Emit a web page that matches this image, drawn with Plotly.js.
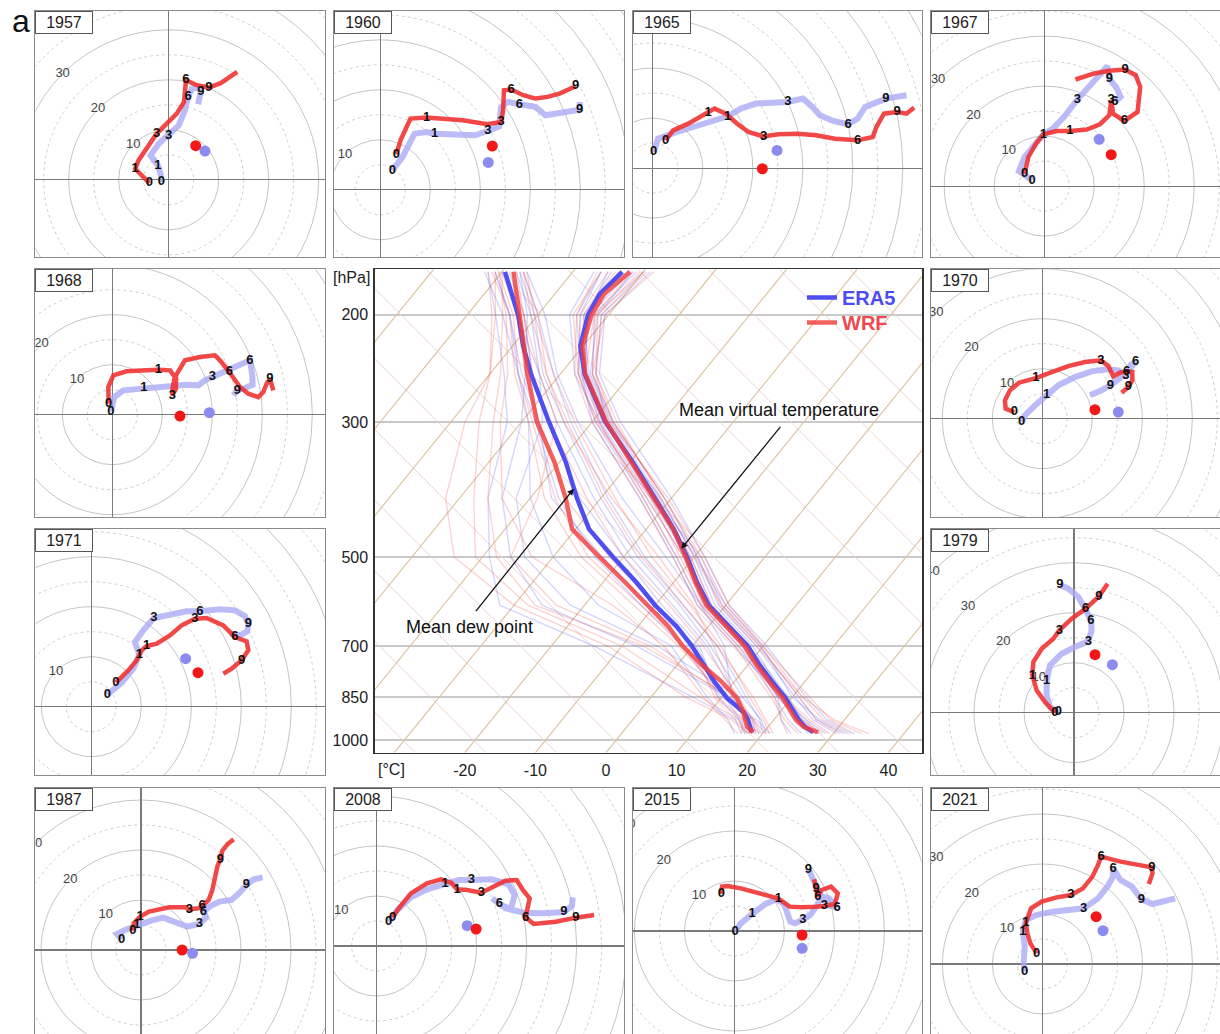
<!DOCTYPE html>
<html><head><meta charset="utf-8">
<script src="https://cdn.plot.ly/plotly-3.0.1.min.js"></script>
<style>html,body{margin:0;padding:0;overflow:hidden;background:#fff}#chart{width:1222px;height:1036px}</style>
</head><body><div id="chart"></div>
<script>
// ---------------- DATA ----------------
const YEARS = [1957,1960,1965,1967,1968,1970,1971,1979,1987,2008,2015,2021];
const HEIGHT_LABELS = ['0','1','3','6','9'];
const RING_LABELS = [10,20,30,40];

// Hodographs (m/s): u, v and the indices of the 0/1/3/6/9 km points
const WRF_U_1957 = [-3.87,-6.69,-6.04,-2.42,-0.40,1.61,3.06,3.46,5.64,8.06,10.47,12.08,13.70];
const WRF_V_1957 = [-0.67,2.21,3.88,9.22,11.23,13.23,15.57,19.92,18.92,18.45,19.38,20.45,21.59];
const WRF_I_1957 = [0,1,3,7,9];
const ERA_U_1957 = [-1.45,-1.61,-2.18,-3.63,-2.01,0.0,2.01,3.22,3.87,4.67,5.80,6.44,6.20,5.88];
const ERA_V_1957 = [-0.47,1.20,2.87,4.88,7.22,8.89,10.89,13.90,16.58,18.25,18.45,17.58,16.04,15.11];
const ERA_I_1957 = [0,2,5,8,11];

const WRF_U_1960 = [3.22,4.03,6.04,9.26,16.51,21.35,24.17,24.57,24.73,26.18,28.60,31.02,33.43,35.85,39.07];
const WRF_V_1960 = [7.09,9.89,14.24,14.44,13.90,13.10,13.57,15.91,19.92,20.05,18.92,18.25,18.58,19.25,20.72];
const WRF_I_1960 = [0,3,6,9,14];
const ERA_U_1960 = [2.42,4.43,6.85,9.26,10.88,18.93,21.51,23.77,24.17,25.54,27.79,31.02,33.03,35.04,38.27,39.88,39.88];
const ERA_V_1960 = [3.88,6.55,11.23,11.56,11.23,10.89,11.76,12.70,16.58,17.58,17.11,16.58,14.91,15.24,15.91,16.04,17.58];
const ERA_I_1960 = [0,4,6,10,15];

const WRF_U_1965 = [2.56,4.07,7.08,11.07,12.35,14.61,16.87,19.13,22.14,25.15,28.92,32.68,36.45,40.96,43.98,44.73,46.23,48.87,50.75,52.26];
const WRF_V_1965 = [5.55,7.55,8.89,11.03,11.90,10.89,8.89,7.22,6.35,6.75,6.88,6.55,5.88,5.55,6.22,8.22,10.89,11.23,10.89,12.10];
const WRF_I_1965 = [0,3,8,13,17];
const ERA_U_1965 = [0.15,1.05,4.82,10.09,14.98,17.62,20.63,27.03,30.04,31.93,33.43,36.07,39.08,40.96,42.47,46.61,50.75];
const ERA_V_1965 = [3.21,5.88,7.22,8.89,10.36,11.90,12.90,13.23,13.90,12.23,10.56,9.42,8.76,9.89,12.23,13.90,14.57];
const ERA_I_1965 = [0,4,7,12,15];

const WRF_U_1967 = [-3.92,-3.16,-1.66,-0.15,2.48,5.12,8.51,11.15,13.03,13.40,13.78,16.04,18.67,19.20,18.30,16.19,13.03,10.01,6.25];
const WRF_V_1967 = [2.47,5.82,8.49,10.36,11.03,11.03,11.30,12.37,14.17,17.18,14.50,13.03,14.84,19.85,22.19,23.33,23.06,22.53,21.32];
const WRF_I_1967 = [0,5,9,11,15];
const ERA_U_1967 = [-2.41,-5.05,-3.92,-1.66,-0.15,1.73,3.99,6.63,9.26,11.52,12.65,13.03,14.53,15.29,14.16];
const ERA_V_1967 = [1.14,3.01,5.82,8.82,10.36,11.50,13.84,17.31,20.19,22.53,24.00,21.52,19.52,17.85,16.84];
const ERA_I_1967 = [0,4,7,14,11];

const WRF_U_1968 = [-0.73,-0.8,0.2,2.87,6.87,9.2,11.53,12.53,12.07,12.0,12.73,12.73,14.53,17.53,20.53,21.53,23.4,25.53,27.2,29.2,30.2,30.87,31.53,32.2];
const WRF_V_1968 = [2.2,5.53,7.87,8.67,8.87,9.0,8.87,7.53,5.53,3.87,5.2,7.87,10.87,11.53,11.87,10.87,8.53,5.53,4.2,3.53,4.53,6.2,7.2,4.87];
const WRF_I_1968 = [0,5,9,16,22];
const ERA_U_1968 = [-0.27,0.4,2.2,6.33,10.87,14.87,17.2,18.53,20.0,23.53,27.53,28.0,28.07,26.53,25.0,24.2];
const ERA_V_1968 = [0.67,3.53,4.87,5.33,5.73,6.0,5.87,6.87,7.53,9.07,10.87,7.87,6.0,5.33,4.87,3.87];
const ERA_I_1968 = [0,3,8,10,14];

const WRF_U_1970 = [-5.6,-7.33,-7.47,-6.47,-4.67,-1.27,1.87,5.2,8.53,11.73,13.2,14.2,15.53,16.87,18.0,18.0,17.2,15.87];
const WRF_V_1970 = [1.33,2.0,3.67,5.67,7.2,8.13,9.33,10.53,11.33,11.67,10.53,8.47,9.2,9.47,9.33,7.67,6.33,5.2];
const WRF_I_1970 = [0,5,9,13,16];
const ERA_U_1970 = [-4.13,-3.47,-1.47,0.87,3.2,6.53,9.87,12.87,15.2,16.73,17.73,18.67,17.33,15.2,13.6,11.53,9.53];
const ERA_V_1970 = [-0.67,0.67,2.67,4.8,6.67,8.33,9.47,9.87,9.67,8.67,10.8,11.47,9.67,7.87,6.67,5.53,4.67];
const ERA_I_1970 = [0,3,9,11,14];

const WRF_U_1971 = [4.93,7.4,9.07,10.07,11.07,13.07,15.73,18.07,20.73,23.07,26.4,28.73,31.07,31.4,30.07,28.07,26.4];
const WRF_V_1971 = [4.8,7.27,9.27,11.27,12.13,12.6,14.27,16.27,17.6,17.73,16.27,13.93,13.07,11.27,9.27,7.6,6.6];
const WRF_I_1971 = [0,4,8,11,14];
const ERA_U_1971 = [3.2,6.07,8.4,9.6,8.73,10.4,12.53,16.4,19.07,21.73,25.73,28.73,30.73,31.4,31.2,29.73,27.73];
const ERA_V_1971 = [2.4,4.8,7.6,10.4,12.93,15.27,17.73,18.6,19.07,19.07,19.47,19.27,18.13,16.6,15.07,14.27,14.6];
const ERA_I_1971 = [0,3,6,9,13];

const WRF_U_1979 = [-3.8,-5.8,-7.47,-8.33,-8.13,-6.47,-4.13,-2.93,-0.47,2.33,5.0,6.73];
const WRF_V_1979 = [0.0,2.13,4.47,7.47,10.13,12.8,14.8,16.47,18.8,20.8,23.27,25.8];
const WRF_I_1979 = [0,3,7,9,10];
const ERA_U_1979 = [-3.13,-4.8,-5.47,-5.47,-4.8,-2.47,0.2,2.87,3.53,3.4,2.2,0.87,-1.13,-2.8];
const ERA_V_1979 = [0.13,1.13,3.47,6.47,9.47,11.8,13.13,14.27,16.47,18.47,20.8,23.13,24.8,25.6];
const ERA_I_1979 = [0,3,7,9,13];

const WRF_U_1987 = [-1.61,-1.45,-0.16,1.61,5.64,8.86,9.67,11.44,12.24,13.53,14.26,14.66,15.3,15.87,16.27,17.32,18.53];
const WRF_V_1987 = [3.87,5.33,6.67,7.67,8.53,8.53,8.13,8.33,8.8,10.0,12.0,14.33,16.8,18.13,19.87,21.2,22.13];
const WRF_I_1987 = [0,2,6,8,13];
const ERA_U_1987 = [-3.87,-4.83,-3.22,-0.81,2.01,4.43,6.85,9.26,11.68,13.05,12.49,13.69,15.71,18.12,19.73,21.1,22.55,24.33];
const ERA_V_1987 = [2.13,3.2,4.0,5.0,5.87,6.47,5.47,4.67,5.2,6.53,7.67,8.67,9.67,10.0,11.47,13.0,14.13,14.53];
const ERA_I_1987 = [0,3,8,10,15];

const WRF_U_2008 = [3.22,4.43,6.85,10.07,12.89,14.9,16.11,18.12,20.94,23.76,25.78,28.03,29.24,30.61,30.21,29.8,31.41,35.84,39.87,43.5];
const WRF_V_2008 = [5.73,7.53,10.53,12.53,13.33,12.67,11.33,11.2,10.67,12.0,13.07,13.2,11.2,9.53,7.2,5.73,4.4,4.87,5.67,6.2];
const WRF_I_2008 = [0,6,8,15,18];
const ERA_U_2008 = [2.42,4.03,6.85,10.07,13.69,16.51,18.93,22.96,26.34,27.63,26.82,24.57,23.12,25.78,29.4,33.43,37.46,39.07,39.23];
const ERA_V_2008 = [4.87,7.07,9.73,11.33,12.4,13.2,13.2,13.33,12.4,10.2,7.33,8.4,9.53,7.53,6.67,6.53,6.8,8.0,9.73];
const ERA_I_2008 = [0,4,6,11,16];

const WRF_U_2015 = [-2.63,-2.48,-1.35,1.28,5.04,8.8,11.05,13.31,16.32,17.97,20.08,20.68,19.33,17.45,16.69,16.32,15.94];
const WRF_V_2015 = [7.4,8.87,9.0,8.53,7.53,6.47,4.87,4.73,4.87,5.0,5.4,7.53,8.87,8.2,6.87,8.53,10.33];
const WRF_I_2015 = [0,5,9,14,15];
const ERA_U_2015 = [0.15,1.28,3.53,6.17,8.42,9.93,11.2,12.18,13.69,15.19,16.32,17.45,18.95,20.53,18.57,17.07,15.94,14.81];
const ERA_V_2015 = [-0.13,1.53,3.4,5.4,6.33,5.4,1.87,1.53,2.33,3.2,4.87,6.87,6.53,4.73,5.2,7.53,9.87,12.33];
const ERA_I_2015 = [0,2,8,13,17];

const WRF_U_2021 = [-1.13,-2.41,-3.01,-3.31,-2.26,-0.15,2.86,5.72,8.12,10.0,11.13,11.73,15.64,19.4,21.88,22.03,21.28];
const WRF_V_2021 = [2.13,4.13,6.13,8.27,11.13,12.47,13.33,13.8,15.13,17.47,19.8,21.47,20.47,19.8,19.33,18.13,16.0];
const WRF_I_2021 = [0,3,7,11,14];
const ERA_U_2021 = [-3.53,-3.76,-3.53,-3.91,-3.31,-1.28,2.11,5.87,8.27,11.13,13.01,14.14,14.14,15.64,17.9,19.78,22.03,26.55];
const ERA_V_2021 = [-1.53,0.47,3.47,6.47,8.8,9.8,10.47,10.93,11.13,13.13,15.47,17.47,19.13,16.8,15.47,12.93,12.0,13.13];
const ERA_I_2021 = [0,3,8,12,15];

// Storm motion (m/s), in YEARS order
const STORM_WRF_U = [5.40,22.40,21.91,13.40,13.53,10.53,21.33,4.2,8.22,19.9,13.54,10.75];
const STORM_WRF_V = [6.82,8.76,-0.13,6.28,-0.27,1.8,6.8,11.6,0.0,3.4,-0.8,9.47];
const STORM_ERA_U = [7.25,21.59,24.85,10.99,19.4,15.2,18.87,7.67,10.31,18.12,13.54,12.11];
const STORM_ERA_V = [5.75,5.48,3.54,9.36,0.4,1.33,9.6,9.6,-0.67,4.07,-3.47,6.67];

// Skew-T mean profiles (hPa, degC)
const LEVELS   = [970,950,925,900,850,800,750,700,650,600,550,500,450,400,350,300,250,225,200,185,170];
const ERA5_TV  = [27.0,25.2,23.5,22.0,19.0,15.3,11.5,7.8,3.0,-2.4,-6.7,-11.0,-16.1,-22.3,-29.5,-38.1,-46.6,-50.4,-52.9,-53.6,-53.0];
const WRF_TV   = [27.7,25.0,23.1,21.6,18.6,14.9,11.1,7.4,2.6,-2.7,-6.9,-11.2,-16.2,-22.5,-29.6,-38.0,-46.5,-50.1,-52.4,-53.0,-51.9];
const ERA5_TD  = [18.3,17.4,16.3,14.9,10.7,7.1,3.6,-0.1,-4.5,-10.0,-15.3,-21.5,-28.1,-33.4,-39.0,-46.1,-54.2,-58.5,-62.8,-66.1,-69.6];
const WRF_TD   = [18.5,17.0,15.9,14.9,12.1,8.1,3.3,-1.4,-5.7,-11.0,-16.9,-23.4,-30.5,-35.0,-40.6,-47.8,-54.7,-58.4,-62.6,-65.5,-68.4];

// Individual soundings (hPa, degC)
const MEMBER_LEVELS = [975,925,850,700,600,500,400,300,250,200,170];
const ERA5_TV_M1 = [33.0,27.5,22.0,10.5,0.5,-8.5,-20.0,-36.0,-44.5,-50.5,-49.0];
const ERA5_TV_M2 = [28.0,24.0,19.5,8.0,-2.0,-10.5,-22.0,-37.5,-46.0,-53.5,-54.5];
const ERA5_TV_M3 = [25.5,22.0,17.5,6.5,-3.5,-12.5,-24.0,-39.5,-47.5,-54.0,-56.0];
const ERA5_TV_M4 = [30.5,25.5,20.5,9.0,-1.0,-9.5,-21.0,-37.0,-45.5,-52.0,-51.0];
const ERA5_TV_M5 = [24.0,21.0,18.0,7.5,-2.5,-11.5,-23.5,-39.0,-48.0,-55.5,-57.0];
const ERA5_TV_M6 = [29.0,24.5,18.5,6.0,-4.0,-13.0,-24.5,-40.0,-47.0,-52.5,-52.0];
const ERA5_TV_M7 = [26.5,23.0,19.0,8.5,-1.5,-10.0,-21.5,-38.5,-46.5,-53.0,-55.0];
const ERA5_TV_M8 = [31.5,26.0,21.0,9.5,-0.5,-9.0,-22.5,-38.0,-45.0,-51.0,-50.0];
const ERA5_TV_M9 = [27.5,23.5,18.0,7.0,-3.0,-11.0,-23.0,-38.8,-47.2,-54.5,-56.0];
const ERA5_TV_M10 = [32.0,26.5,20.0,9.8,0.0,-9.8,-21.8,-37.2,-45.8,-51.5,-51.5];
const WRF_TV_M1 = [34.0,28.0,22.5,10.0,0.0,-9.0,-21.0,-37.0,-45.0,-51.0,-49.5];
const WRF_TV_M2 = [27.0,23.5,19.0,7.5,-2.5,-11.0,-22.5,-38.0,-46.5,-53.0,-53.5];
const WRF_TV_M3 = [25.0,21.5,17.0,6.0,-4.0,-13.0,-24.5,-40.0,-48.0,-54.5,-56.5];
const WRF_TV_M4 = [31.0,26.0,21.0,9.5,-0.5,-10.0,-21.5,-36.5,-45.0,-51.5,-50.5];
const WRF_TV_M5 = [23.5,21.0,17.5,7.0,-3.0,-12.0,-23.0,-39.5,-47.5,-55.0,-56.0];
const WRF_TV_M6 = [29.5,25.0,19.0,6.5,-3.5,-12.5,-24.0,-39.0,-46.5,-52.0,-51.5];
const WRF_TV_M7 = [27.5,23.5,18.5,8.0,-2.0,-10.5,-22.0,-38.5,-47.0,-53.5,-54.0];
const WRF_TV_M8 = [32.5,27.0,21.5,10.0,0.5,-8.5,-20.5,-37.5,-45.5,-50.5,-48.5];
const WRF_TV_M9 = [28.5,24.0,18.0,7.2,-3.2,-11.5,-23.5,-39.2,-47.5,-54.0,-55.0];
const WRF_TV_M10 = [35.0,28.5,21.5,9.0,-0.8,-9.5,-21.0,-37.0,-45.5,-51.8,-50.0];
const ERA5_TD_M1 = [20.0,18.0,13.5,3.5,-6.0,-17.0,-29.0,-43.0,-51.0,-60.0,-67.0];
const ERA5_TD_M2 = [17.0,14.5,6.0,-14.0,-32.0,-39.0,-46.0,-52.0,-58.0,-66.0,-72.0];
const ERA5_TD_M3 = [19.5,17.0,12.0,2.0,-7.5,-19.0,-31.0,-45.0,-53.0,-61.0,-68.0];
const ERA5_TD_M4 = [16.0,13.5,8.0,-3.0,-18.0,-30.0,-40.0,-49.0,-56.0,-64.0,-71.0];
const ERA5_TD_M5 = [18.5,16.5,11.5,4.5,-3.5,-14.0,-27.0,-42.0,-50.5,-59.0,-66.5];
const ERA5_TD_M6 = [21.0,17.5,10.0,-1.5,-12.0,-24.0,-36.0,-48.0,-56.0,-65.0,-72.5];
const ERA5_TD_M7 = [17.5,15.0,9.5,1.0,-9.0,-20.0,-33.0,-46.0,-54.0,-62.0,-69.0];
const ERA5_TD_M8 = [18.8,16.0,12.5,-5.0,-22.0,-34.0,-42.0,-47.0,-53.0,-63.0,-70.0];
const ERA5_TD_M9 = [19.0,16.8,11.0,-8.0,-26.0,-36.0,-44.0,-50.0,-55.0,-61.5,-67.5];
const ERA5_TD_M10 = [17.8,15.2,10.5,0.5,-11.0,-23.0,-37.0,-47.5,-55.5,-64.0,-71.0];
const ERA5_TD_M11 = [20.5,18.2,13.0,2.5,-6.5,-18.0,-30.0,-44.0,-52.5,-60.5,-67.5];
const WRF_TD_M1 = [21.0,18.5,14.0,4.0,-5.0,-16.0,-28.0,-42.5,-51.0,-60.5,-66.5];
const WRF_TD_M2 = [17.5,15.0,7.0,-10.0,-28.0,-41.0,-48.0,-56.0,-60.0,-66.0,-71.0];
const WRF_TD_M3 = [19.0,17.0,12.5,1.5,-8.0,-20.0,-32.0,-46.0,-54.0,-62.0,-68.5];
const WRF_TD_M4 = [16.5,13.0,7.5,-4.0,-16.0,-33.0,-44.0,-53.0,-57.5,-64.5,-70.5];
const WRF_TD_M5 = [18.0,16.5,12.0,3.0,-4.5,-15.0,-28.5,-44.0,-52.0,-60.0,-67.0];
const WRF_TD_M6 = [20.5,17.0,10.5,-2.0,-13.0,-26.0,-38.0,-49.0,-56.5,-64.0,-71.5];
const WRF_TD_M7 = [17.0,15.5,9.0,0.0,-10.0,-22.0,-35.0,-47.5,-55.0,-63.0,-69.5];
const WRF_TD_M8 = [19.5,16.0,11.0,-6.0,-24.0,-36.0,-39.0,-45.0,-53.0,-62.0,-68.0];
const WRF_TD_M9 = [19.8,17.2,11.5,-7.0,-27.0,-38.0,-46.0,-54.0,-58.5,-65.0,-70.0];
const WRF_TD_M10 = [18.2,15.8,9.5,-1.0,-12.0,-25.0,-36.5,-48.5,-56.0,-63.5,-70.5];
const WRF_TD_M11 = [21.5,18.8,14.5,3.5,-6.0,-17.5,-29.5,-43.5,-52.0,-61.0,-67.0];
const WRF_TD_M12 = [18.0,14.0,5.0,-12.0,-30.0,-44.0,-52.0,-58.0,-60.0,-66.5,-72.0];

const P_TICKS = [200,300,500,700,850,1000];
const T_TICKS = [-20,-10,0,10,20,30,40];

// ---------------- LAYOUT CONFIG ----------------
const W = 1222, H = 1036, PX_PER_MS = 5;
const COL_L = [35.4, 334.0, 632.5, 930.7], COL_R = [325.3, 624.2, 921.8, 1221.5];
const ROW_T = [11.0, 269.3, 528.7, 787.7], ROW_B = [257.3, 517.0, 775.3, 1035.0];
// [column, row, origin x px, origin y px]
const PANEL_POS = {1957:[0,0,168.7,179.8],1960:[1,0,380.3,189.8],1965:[2,0,652.8,168.1],1967:[3,0,1044.2,186.1],
  1968:[0,1,112.3,414.7],1970:[3,1,1042.3,418.7],1971:[0,2,91.3,706.7],1979:[3,2,1074,712.7],
  1987:[0,3,141,950],2008:[1,3,376.6,946],2015:[2,3,734.4,931],2021:[3,3,1042.4,964]};
const SKEW_BOX = [374.8, 269.3, 922.4, 752.7];
const P_BOTTOM = 1048, P_TOP = 168.4, SKEW = 30.4, ADIABAT_SLOPE = 37.45;

const HODO = {
 1957:[WRF_U_1957,WRF_V_1957,WRF_I_1957,ERA_U_1957,ERA_V_1957,ERA_I_1957],
 1960:[WRF_U_1960,WRF_V_1960,WRF_I_1960,ERA_U_1960,ERA_V_1960,ERA_I_1960],
 1965:[WRF_U_1965,WRF_V_1965,WRF_I_1965,ERA_U_1965,ERA_V_1965,ERA_I_1965],
 1967:[WRF_U_1967,WRF_V_1967,WRF_I_1967,ERA_U_1967,ERA_V_1967,ERA_I_1967],
 1968:[WRF_U_1968,WRF_V_1968,WRF_I_1968,ERA_U_1968,ERA_V_1968,ERA_I_1968],
 1970:[WRF_U_1970,WRF_V_1970,WRF_I_1970,ERA_U_1970,ERA_V_1970,ERA_I_1970],
 1971:[WRF_U_1971,WRF_V_1971,WRF_I_1971,ERA_U_1971,ERA_V_1971,ERA_I_1971],
 1979:[WRF_U_1979,WRF_V_1979,WRF_I_1979,ERA_U_1979,ERA_V_1979,ERA_I_1979],
 1987:[WRF_U_1987,WRF_V_1987,WRF_I_1987,ERA_U_1987,ERA_V_1987,ERA_I_1987],
 2008:[WRF_U_2008,WRF_V_2008,WRF_I_2008,ERA_U_2008,ERA_V_2008,ERA_I_2008],
 2015:[WRF_U_2015,WRF_V_2015,WRF_I_2015,ERA_U_2015,ERA_V_2015,ERA_I_2015],
 2021:[WRF_U_2021,WRF_V_2021,WRF_I_2021,ERA_U_2021,ERA_V_2021,ERA_I_2021]
};

const FONT = 'Liberation Sans, Arial, sans-serif';
const C_WRF = 'rgba(240,45,45,0.88)', C_ERA = 'rgba(168,168,246,0.78)';
const traces = [], shapes = [], annotations = [];
const layout = {width:W, height:H, margin:{l:0,r:0,t:0,b:0}, paper_bgcolor:'#fff', plot_bgcolor:'#fff',
  font:{family:FONT, color:'#222'}, showlegend:true, hovermode:false};
const px2x = px => px / W, py2y = py => 1 - py / H;

YEARS.forEach((yr, i) => {
  const k = i + 1, sfx = k === 1 ? '' : String(k);
  const [c, r, ox, oy] = PANEL_POS[yr];
  const L = COL_L[c], R = COL_R[c], T = ROW_T[r], B = ROW_B[r];
  layout['xaxis' + sfx] = {domain:[px2x(L), px2x(R)], range:[(L-ox)/PX_PER_MS, (R-ox)/PX_PER_MS], anchor:'y'+sfx,
    showticklabels:false, ticks:'', showgrid:false, zeroline:true, zerolinecolor:'#7a7a7a', zerolinewidth:1.2,
    showline:true, mirror:true, linecolor:'#8a8a8a', linewidth:1, fixedrange:true};
  layout['yaxis' + sfx] = {domain:[py2y(B), py2y(T)], range:[(oy-B)/PX_PER_MS, (oy-T)/PX_PER_MS], anchor:'x'+sfx,
    showticklabels:false, ticks:'', showgrid:false, zeroline:true, zerolinecolor:'#7a7a7a', zerolinewidth:1.2,
    showline:true, mirror:true, linecolor:'#8a8a8a', linewidth:1, fixedrange:true};
  for (let rad = 5; rad <= 65; rad += 5) {
    const solid = rad % 10 === 0;
    shapes.push({type:'circle', xref:'x'+sfx, yref:'y'+sfx, x0:-rad, x1:rad, y0:-rad, y1:rad, layer:'below',
      line:{color: solid ? '#c4c4c4' : '#cdcdcd', width: 1, dash: solid ? 'solid' : 'dot'}});
  }
  const ax = {xaxis:'x'+sfx, yaxis:'y'+sfx, showlegend:false, hoverinfo:'skip'};
  traces.push(Object.assign({type:'scatter', mode:'text', x:RING_LABELS.map(v=>-v/Math.SQRT2), y:RING_LABELS.map(v=>v/Math.SQRT2),
    text:RING_LABELS.map(String), cliponaxis:true, textfont:{size:13, color:'#444', family:FONT}}, ax));
  const [wu, wv, wi, eu, ev, ei] = HODO[yr];
  traces.push(Object.assign({type:'scatter', mode:'lines', x:eu, y:ev, line:{color:C_ERA, width:6}}, ax));
  traces.push(Object.assign({type:'scatter', mode:'lines', x:wu, y:wv, line:{color:C_WRF, width:4.5}}, ax));
  traces.push(Object.assign({type:'scatter', mode:'markers', x:[STORM_ERA_U[i]], y:[STORM_ERA_V[i]],
    marker:{size:11, color:'#8c8cf0'}}, ax));
  traces.push(Object.assign({type:'scatter', mode:'markers', x:[STORM_WRF_U[i]], y:[STORM_WRF_V[i]],
    marker:{size:11, color:'#f21818'}}, ax));
  const lblFont = {size:13, color:'#111', family:FONT, weight:700};
  traces.push(Object.assign({type:'scatter', mode:'text', x:ei.map(j=>eu[j]), y:ei.map(j=>ev[j]), text:HEIGHT_LABELS,
    cliponaxis:true, textfont:lblFont}, ax));
  traces.push(Object.assign({type:'scatter', mode:'text', x:wi.map(j=>wu[j]), y:wi.map(j=>wv[j]), text:HEIGHT_LABELS,
    cliponaxis:true, textfont:lblFont}, ax));
  annotations.push({xref:'paper', yref:'paper', x:px2x(L), y:py2y(T), xanchor:'left', yanchor:'top', text:String(yr),
    showarrow:false, width:54, height:19, borderpad:1, borderwidth:1, bordercolor:'#555', bgcolor:'#fff',
    font:{size:16, color:'#222', family:FONT}});
});

// ---------------- SKEW-T ----------------
const S = 13, ss = String(S);
const skewX = (t, p) => t + SKEW * Math.log(P_BOTTOM / p);
layout['xaxis' + ss] = {domain:[px2x(SKEW_BOX[0]), px2x(SKEW_BOX[2])], range:[-32.75, 44.82], anchor:'y'+ss,
  tickvals:T_TICKS, ticktext:T_TICKS.map(String), ticks:'outside', ticklen:3, tickcolor:'rgba(0,0,0,0)',
  tickfont:{size:16, color:'#222'}, showgrid:false, zeroline:false, showline:true, mirror:true, linecolor:'#333', linewidth:1.5, fixedrange:true};
layout['yaxis' + ss] = {domain:[py2y(SKEW_BOX[3]), py2y(SKEW_BOX[1])], type:'log',
  range:[Math.log10(P_BOTTOM), Math.log10(P_TOP)], anchor:'x'+ss,
  tickvals:P_TICKS, ticktext:P_TICKS.map(String), ticks:'outside', ticklen:2, tickcolor:'rgba(0,0,0,0)',
  tickfont:{size:16, color:'#222'}, showgrid:true, gridcolor:'#c9c9c9', gridwidth:1.8, zeroline:false,
  showline:true, mirror:true, linecolor:'#333', linewidth:1.5, fixedrange:true};
const sax = {xaxis:'x'+ss, yaxis:'y'+ss, hoverinfo:'skip'};

// isotherms and dry-adiabat guide lines
const isoX = [], isoY = [], adX = [], adY = [];
for (let t0 = -110; t0 <= 40; t0 += 10) { isoX.push(skewX(t0, P_BOTTOM), skewX(t0, P_TOP), null); isoY.push(P_BOTTOM, P_TOP, null); }
for (let a0 = -27; a0 <= 133; a0 += 10) {
  adX.push(a0, a0 - ADIABAT_SLOPE * Math.log(P_BOTTOM / P_TOP), null); adY.push(P_BOTTOM, P_TOP, null);
}
traces.push(Object.assign({type:'scatter', mode:'lines', x:adX, y:adY, line:{color:'#efd3d3', width:1}, showlegend:false}, sax));
traces.push(Object.assign({type:'scatter', mode:'lines', x:isoX, y:isoY, line:{color:'#dcc19b', width:1.1}, showlegend:false}, sax));

const memberTrace = (vals, color) => Object.assign({type:'scatter', mode:'lines',
  x:vals.map((t, j) => skewX(t, MEMBER_LEVELS[j])), y:MEMBER_LEVELS, line:{color:color, width:1.4}, showlegend:false}, sax);
const ME = 'rgba(95,95,240,0.26)', MW = 'rgba(240,85,85,0.26)';
[ERA5_TV_M1,ERA5_TV_M2,ERA5_TV_M3,ERA5_TV_M4,ERA5_TV_M5,ERA5_TV_M6,ERA5_TV_M7,ERA5_TV_M8,ERA5_TV_M9,ERA5_TV_M10,
 ERA5_TD_M1,ERA5_TD_M2,ERA5_TD_M3,ERA5_TD_M4,ERA5_TD_M5,ERA5_TD_M6,ERA5_TD_M7,ERA5_TD_M8,ERA5_TD_M9,ERA5_TD_M10,ERA5_TD_M11]
  .forEach(m => traces.push(memberTrace(m, ME)));
[WRF_TV_M1,WRF_TV_M2,WRF_TV_M3,WRF_TV_M4,WRF_TV_M5,WRF_TV_M6,WRF_TV_M7,WRF_TV_M8,WRF_TV_M9,WRF_TV_M10,
 WRF_TD_M1,WRF_TD_M2,WRF_TD_M3,WRF_TD_M4,WRF_TD_M5,WRF_TD_M6,WRF_TD_M7,WRF_TD_M8,WRF_TD_M9,WRF_TD_M10,WRF_TD_M11,WRF_TD_M12]
  .forEach(m => traces.push(memberTrace(m, MW)));

const meanTrace = (vals, color, name, show, leg) => Object.assign({type:'scatter', mode:'lines', name:name, showlegend:show,
  legend:leg, x:vals.map((t, j) => skewX(t, LEVELS[j])), y:LEVELS, line:{color:color, width:4.5}}, sax);
const CE = 'rgb(78,78,242)', CW = 'rgba(242,62,62,0.82)';
traces.push(meanTrace(ERA5_TD, CE, '<b><span style="color:#4b4bf0">ERA5</span></b>', false, 'legend'));
traces.push(meanTrace(ERA5_TV, CE, '<b><span style="color:#4b4bf0">ERA5</span></b>', true, 'legend'));
traces.push(meanTrace(WRF_TD, CW, '<b><span style="color:#f04850">WRF</span></b>', false, 'legend2'));
traces.push(meanTrace(WRF_TV, CW, '<b><span style="color:#f04850">WRF</span></b>', true, 'legend2'));

const legBase = {xanchor:'left', yanchor:'top', bgcolor:'rgba(0,0,0,0)', font:{size:20, family:FONT}, itemwidth:30};
layout.legend  = Object.assign({x:px2x(802), y:py2y(278)}, legBase);
layout.legend2 = Object.assign({x:px2x(802), y:py2y(303)}, legBase);

const txt = (px, py, text, size, color) => ({xref:'paper', yref:'paper', x:px2x(px), y:py2y(py), xanchor:'center', yanchor:'middle',
  text:text, showarrow:false, font:{size:size, color:color}});
annotations.push(txt(21, 21, 'a', 32, '#111'));
annotations.push(txt(351.5, 277, '[hPa]', 16, '#222'));
annotations.push(txt(391, 769, '[°C]', 16, '#222'));
annotations.push(txt(778.5, 410, 'Mean virtual temperature', 18, '#111'));
annotations.push(txt(469, 627, 'Mean dew point', 18, '#111'));
annotations.push({xref:'paper', yref:'paper', x:px2x(681.3), y:py2y(548.7), ax:781.6-681.3, ay:425.3-548.7, text:'',
  showarrow:true, arrowhead:2, arrowsize:1, arrowwidth:1.3, arrowcolor:'#111', standoff:0, startstandoff:0});
annotations.push({xref:'paper', yref:'paper', x:px2x(573.8), y:py2y(488.7), ax:474.7-573.8, ay:612.7-488.7, text:'',
  showarrow:true, arrowhead:2, arrowsize:1, arrowwidth:1.3, arrowcolor:'#111', standoff:0, startstandoff:0});

layout.shapes = shapes;
layout.annotations = annotations;
Plotly.newPlot('chart', traces, layout, {staticPlot:true, displayModeBar:false});
</script></body></html>
